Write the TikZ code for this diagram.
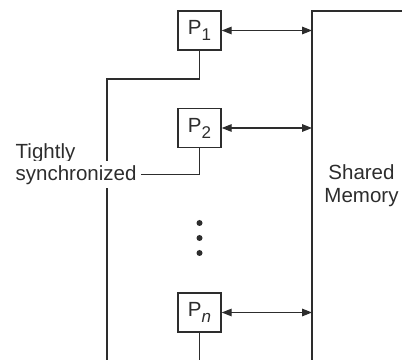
\documentclass[tikz,border=0pt]{standalone}
\usepackage{fontspec}
\setmainfont{Liberation Sans}
\usetikzlibrary{arrows.meta}
\definecolor{ink}{RGB}{45,45,45}
\newcommand\psub[1]{P\raisebox{-6bp}{\fontsize{17bp}{17bp}\selectfont #1}}
\begin{document}
\begin{tikzpicture}[x=1bp,y=1bp,
  line width=1.4bp, color=ink,
  proc/.style={draw, minimum width=43bp, minimum height=39bp, inner sep=0pt,
    font=\fontsize{20.5bp}{23bp}\selectfont},
  lbl/.style={font=\fontsize{20.5bp}{23bp}\selectfont, inner sep=0pt},
  link/.style={{Triangle[length=10bp,width=7.5bp]}-{Triangle[length=10bp,width=7.5bp]}},
  dot/.style={circle, fill=ink, inner sep=0pt, minimum size=6bp}]
\useasboundingbox (0,0) rectangle (402,360);
% shared memory block
\coordinate (memtop) at (312,349);
\coordinate (membot) at (312,0);
\coordinate (memright) at (402,349);
\draw (membot) -- (memtop) -- (memright);
\node[lbl, align=center] (mem) at (361.5,174.8) {Shared\\Memory};
% processors
\node[proc] (p1) at (199.5,329.5) {\psub{1}};
\node[proc] (p2) at (199.5,232) {\psub{2}};
\node[proc] (pn) at (199.5,47.5) {\psub{\itshape n}};
% memory links
\draw[link] (p1.east) -- (p1.east -| memtop);
\draw[link] (p2.east) -- (p2.east -| memtop);
\draw[link] (pn.east) -- (pn.east -| memtop);
% synchronization lines
\coordinate (bendA) at (107,281);
\coordinate (leftbot) at (107,0);
\draw (p1.south) |- (bendA) -- (leftbot);
\coordinate (pnbot) at (199.5,0);
\draw (pn.south) -- (pnbot);
\node[lbl, anchor=base west] (tight) at (15,202) {Tightly};
\node[lbl, anchor=base west, fill=white, inner sep=4bp] (sync) at (11,180) {synchronized};
\draw (p2.south) |- (sync.east);
% ellipsis dots
\node[dot] (d1) at (199.5,137) {};
\node[dot] (d2) at (199.5,122) {};
\node[dot] (d3) at (199.5,107) {};
\end{tikzpicture}
\end{document}
